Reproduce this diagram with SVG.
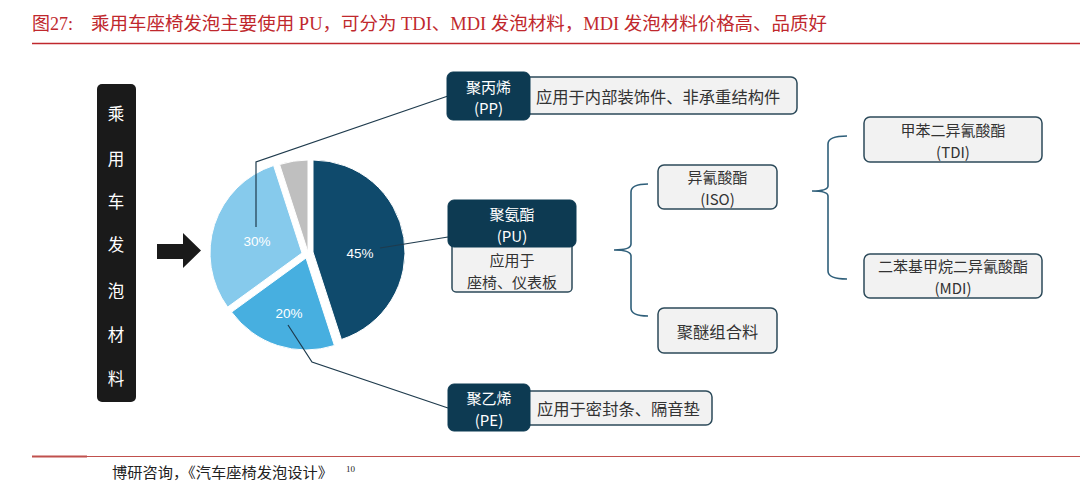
<svg xmlns="http://www.w3.org/2000/svg" width="1080" height="491" viewBox="0 0 1080 491">
<style>
.title{font-family:"Liberation Serif","Noto Sans CJK SC",serif;font-size:18px;fill:#c0282d}
.foot{font-family:"Liberation Serif","Noto Sans CJK SC",serif;font-size:14.5px;fill:#222}
.vt{font-family:"Noto Sans CJK SC",sans-serif;font-size:16.5px;fill:#fff;text-anchor:middle;dominant-baseline:central}
.pct{font-family:"Liberation Sans","Noto Sans",sans-serif;font-size:13.5px;fill:#fff;text-anchor:middle;dominant-baseline:central}
.dk{fill:#0d3a52;stroke:#0d3a52}
.lt{fill:#f2f2f2;stroke:#2c4a5a;stroke-width:1.5}
.wt{font-family:"Noto Sans CJK SC",sans-serif;font-size:15px;fill:#fff;text-anchor:middle;dominant-baseline:central}
.bt{font-family:"Noto Sans CJK SC",sans-serif;font-size:16.3px;fill:#333;dominant-baseline:central}
.b2{font-size:15px}
.ctr{text-anchor:middle}
.lead{fill:none;stroke:#1f3b4d;stroke-width:1.2}
.brace{fill:none;stroke:#2f5f7a;stroke-width:1.6}
</style>
<rect width="1080" height="491" fill="#fff"/>
<g id="title">
<text class="title" x="32" y="30">图27:</text>
<text class="title" x="91" y="30" textLength="736" lengthAdjust="spacingAndGlyphs">乘用车座椅发泡主要使用 PU，可分为 TDI、MDI 发泡材料，MDI 发泡材料价格高、品质好</text>
<line x1="32" y1="43.5" x2="1080" y2="43.5" stroke="#c0282d" stroke-width="1.5"/>
</g>
<g id="left-label">
<rect x="97" y="84" width="39" height="318" rx="5" fill="#1a1a1a"/>
<text class="vt" x="116" y="113">乘</text>
<text class="vt" x="116" y="158">用</text>
<text class="vt" x="116" y="201">车</text>
<text class="vt" x="116" y="244">发</text>
<text class="vt" x="116" y="290">泡</text>
<text class="vt" x="116" y="334">材</text>
<text class="vt" x="116" y="378">料</text>
</g>
<g id="arrow">
<path d="M157,244 L183,244 L183,233 L201,250.5 L183,268 L183,259 L157,259 Z" fill="#1a1a1a"/>
</g>
<g id="pie">
<path d="M313,252 L313,160 A92,92 0 0 1 341.4,339.5 Z" fill="#0f4a6c" stroke="#fff" stroke-width="1"/>
<path d="M306,258 L334.4,345.5 A92,92 0 0 1 231.6,312.1 Z" fill="#47afe0" stroke="#fff" stroke-width="1"/>
<path d="M302,253 L227.6,307.1 A92,92 0 0 1 273.6,165.5 Z" fill="#86caec" stroke="#fff" stroke-width="1"/>
<path d="M308,252 L279.6,164.5 A92,92 0 0 1 308,160 Z" fill="#bfbfbf" stroke="#fff" stroke-width="1"/>
<text class="pct" x="257" y="241">30%</text>
<text class="pct" x="360" y="253">45%</text>
<text class="pct" x="289" y="313">20%</text>
</g>
<g id="connectors">
<polyline class="lead" points="256,227 256,162 448,96"/>
<polyline class="lead" points="380,248 448,237"/>
<polyline class="lead" points="288,325 312,362 448,408"/>
<path class="brace" d="M648,184 Q631,184 631,192 L631,244 Q631,250 614,250 Q631,250 631,256 L631,308 Q631,316 648,316"/>
<path class="brace" d="M847,136 Q828,136 828,144 L828,186 Q828,191 812,191 Q828,191 828,196 L828,271 Q828,279 847,279"/>
</g>
<g id="node-pp">
<rect class="lt" x="522" y="77" width="275" height="37" rx="6"/>
<rect class="dk" x="447" y="72" width="83" height="48" rx="6"/>
<text class="wt" x="488.5" y="86">聚丙烯</text>
<text class="wt" x="488.5" y="107">(PP)</text>
<text class="bt" x="536" y="96">应用于内部装饰件、非承重结构件</text>
</g>
<g id="node-pu">
<rect class="lt" x="452" y="240" width="120" height="52" rx="4"/>
<rect class="dk" x="448" y="200" width="128" height="47" rx="6"/>
<text class="wt" x="512" y="213">聚氨酯</text>
<text class="wt" x="512" y="235">(PU)</text>
<text class="bt b2 ctr" x="512" y="259">应用于</text>
<text class="bt b2 ctr" x="512" y="281">座椅、仪表板</text>
</g>
<g id="node-pe">
<rect class="lt" x="522" y="391" width="190" height="34" rx="6"/>
<rect class="dk" x="448" y="384" width="82" height="47" rx="6"/>
<text class="wt" x="489" y="397">聚乙烯</text>
<text class="wt" x="489" y="419">(PE)</text>
<text class="bt" x="537" y="408">应用于密封条、隔音垫</text>
</g>
<g id="node-iso">
<rect class="lt" x="658" y="165" width="119" height="44" rx="6"/>
<text class="bt b2 ctr" x="717.5" y="176">异氰酸酯</text>
<text class="bt b2 ctr" x="717.5" y="198">(ISO)</text>
</g>
<g id="node-polyether">
<rect class="lt" x="658" y="308" width="119" height="45" rx="6"/>
<text class="bt ctr" x="717.5" y="331">聚醚组合料</text>
</g>
<g id="node-tdi">
<rect class="lt" x="864" y="117" width="178" height="45" rx="6"/>
<text class="bt b2 ctr" x="953" y="129">甲苯二异氰酸酯</text>
<text class="bt b2 ctr" x="953" y="151">(TDI)</text>
</g>
<g id="node-mdi">
<rect class="lt" x="864" y="254" width="178" height="44" rx="6"/>
<text class="bt b2 ctr" x="953" y="265">二苯基甲烷二异氰酸酯</text>
<text class="bt b2 ctr" x="953" y="287">(MDI)</text>
</g>
<g id="footer">
<line x1="32" y1="456.5" x2="1080" y2="456.5" stroke="#c0504d" stroke-width="1"/>
<line x1="32" y1="456.5" x2="87" y2="456.5" stroke="#c0504d" stroke-width="2"/>
<text class="foot" x="112" y="478" textLength="221" lengthAdjust="spacingAndGlyphs">博研咨询，《汽车座椅发泡设计》</text>
<text class="foot" x="346" y="472" style="font-size:9px">10</text>
</g>
</svg>
